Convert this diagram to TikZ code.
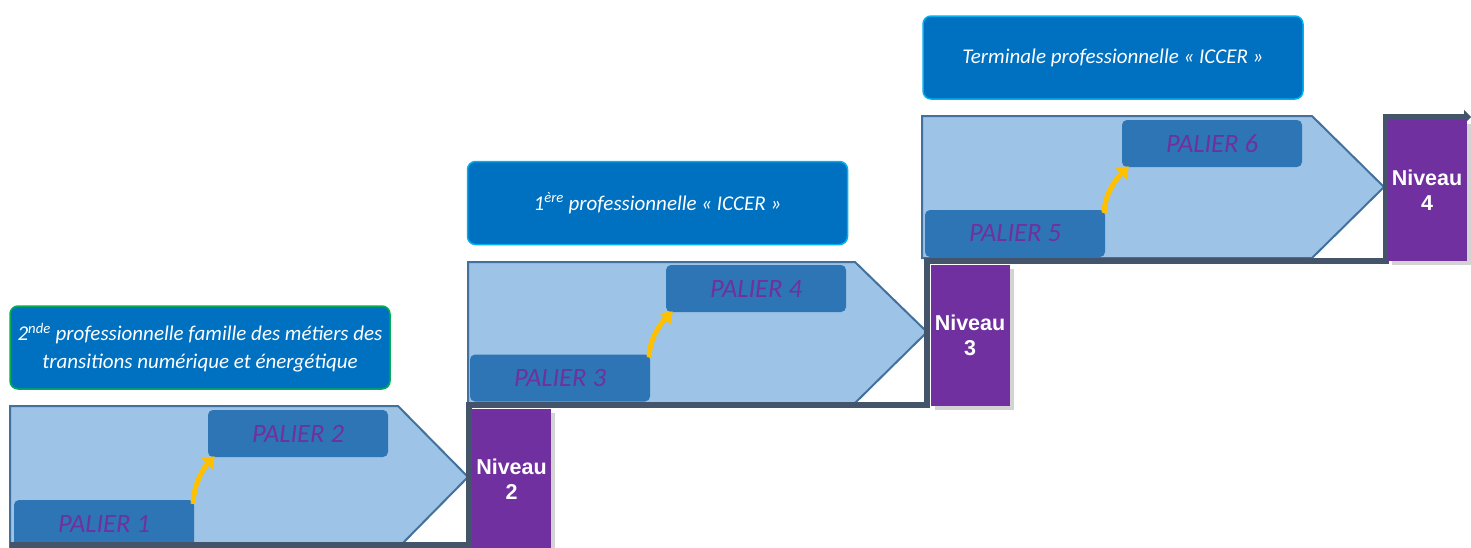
\documentclass[tikz,border=0pt]{standalone}
\usepackage{fontspec}
\setmainfont{Carlito}
\newfontfamily\arialbold{Liberation Sans}
\usetikzlibrary{arrows.meta,shadows}
\definecolor{chevfill}{HTML}{9DC3E6}
\definecolor{chevline}{HTML}{41719C}
\definecolor{palfill}{HTML}{2E75B6}
\definecolor{purp}{HTML}{7030A0}
\definecolor{labfill}{HTML}{0070C0}
\definecolor{labgreen}{HTML}{00B050}
\definecolor{labcyan}{HTML}{00B0F0}
\definecolor{stair}{HTML}{44546A}
\definecolor{yel}{HTML}{FFC000}
\tikzset{
  chev/.style={fill=chevfill,draw=chevline,line width=2pt,line join=miter},
  palier/.style={fill=palfill,rounded corners=5pt,minimum width=180pt,minimum height=47pt,inner sep=0pt,
    text=purp,font=\fontsize{26.5}{30}\selectfont\itshape},
  label/.style={fill=labfill,rounded corners=8pt,line width=1.5pt,minimum width=380pt,minimum height=83pt,
    inner sep=0pt,text=white,align=center,font=\fontsize{21}{27.5}\selectfont\itshape},
  niveau/.style={fill=purp,minimum width=79pt,minimum height=141pt,inner sep=0pt,text=white,align=center,
    font=\arialbold\bfseries\fontsize{21.5}{25}\selectfont,
    drop shadow={shadow xshift=4pt,shadow yshift=-4pt,opacity=0.35}},
  yarrow/.style={draw=yel,line width=5pt,-{Triangle[width=15pt,length=11pt]}},
  stairline/.style={draw=stair,line width=6pt,line join=miter,-{Triangle[width=14pt,length=7pt]}}
}
\begin{document}
\begin{tikzpicture}[x=1pt,y=-1pt]
\useasboundingbox (0,0) rectangle (1471,547);
% chevrons
\draw[chev] (10,406) -- (398,406) -- (468,477) -- (398,548) -- (10,548) -- cycle;
\draw[chev] (468,262) -- (855,262) -- (927,332) -- (855,403) -- (468,403) -- cycle;
\draw[chev] (922,116) -- (1312,116) -- (1384,187) -- (1312,258) -- (922,258) -- cycle;
% paliers
\node[palier] (p1) at (104,523.5) {PALIER 1};
\node[palier] (p2) at (298,433.5) {PALIER 2};
\node[palier] (p3) at (560,378) {PALIER 3};
\node[palier] (p4) at (756,288.5) {PALIER 4};
\node[palier] (p5) at (1015,233.5) {PALIER 5};
\node[palier] (p6) at (1212,143.5) {PALIER 6};
% yellow arrows
\draw[yarrow] ([xshift=-1pt,yshift=-4pt]p1.north east) .. controls +(0,-22) and +(-8,8) .. ([xshift=7pt,yshift=1pt]p2.south west);
\draw[yarrow] ([xshift=-1pt,yshift=-3pt]p3.north east) .. controls +(0,-22) and +(-8,8) .. ([xshift=7pt,yshift=1pt]p4.south west);
\draw[yarrow] ([xshift=-1pt,yshift=-3pt]p5.north east) .. controls +(0,-22) and +(-8,8) .. ([xshift=7pt,yshift=1pt]p6.south west);
% labels
\node[label,draw=labgreen] (l1) at (200,347.5) {2\textsuperscript{nde} professionnelle famille des métiers des\\transitions numérique et énergétique};
\node[label,draw=labcyan] (l2) at (657.5,203) {1\textsuperscript{ère} professionnelle « ICCER »};
\node[label,draw=labcyan] (l3) at (1113,57.5) {Terminale professionnelle « ICCER »};
% staircase
\coordinate (s0) at (10,545);
\coordinate (s1) at (469,545);
\coordinate (s2) at (469,405);
\coordinate (s3) at (927,405);
\coordinate (s4) at (927,261);
\coordinate (s5) at (1386,261);
\coordinate (s6) at (1386,117);
\coordinate (s7) at (1471,117);
\draw[stairline] (s0) -- (s1) -- (s2) -- (s3) -- (s4) -- (s5) -- (s6) -- (s7);
% niveaux
\node[niveau] (n2) at (511.5,479) {Niveau\\2};
\node[niveau] (n3) at (970,335) {Niveau\\3};
\node[niveau] (n4) at (1427,190.5) {Niveau\\4};
\end{tikzpicture}
\end{document}
